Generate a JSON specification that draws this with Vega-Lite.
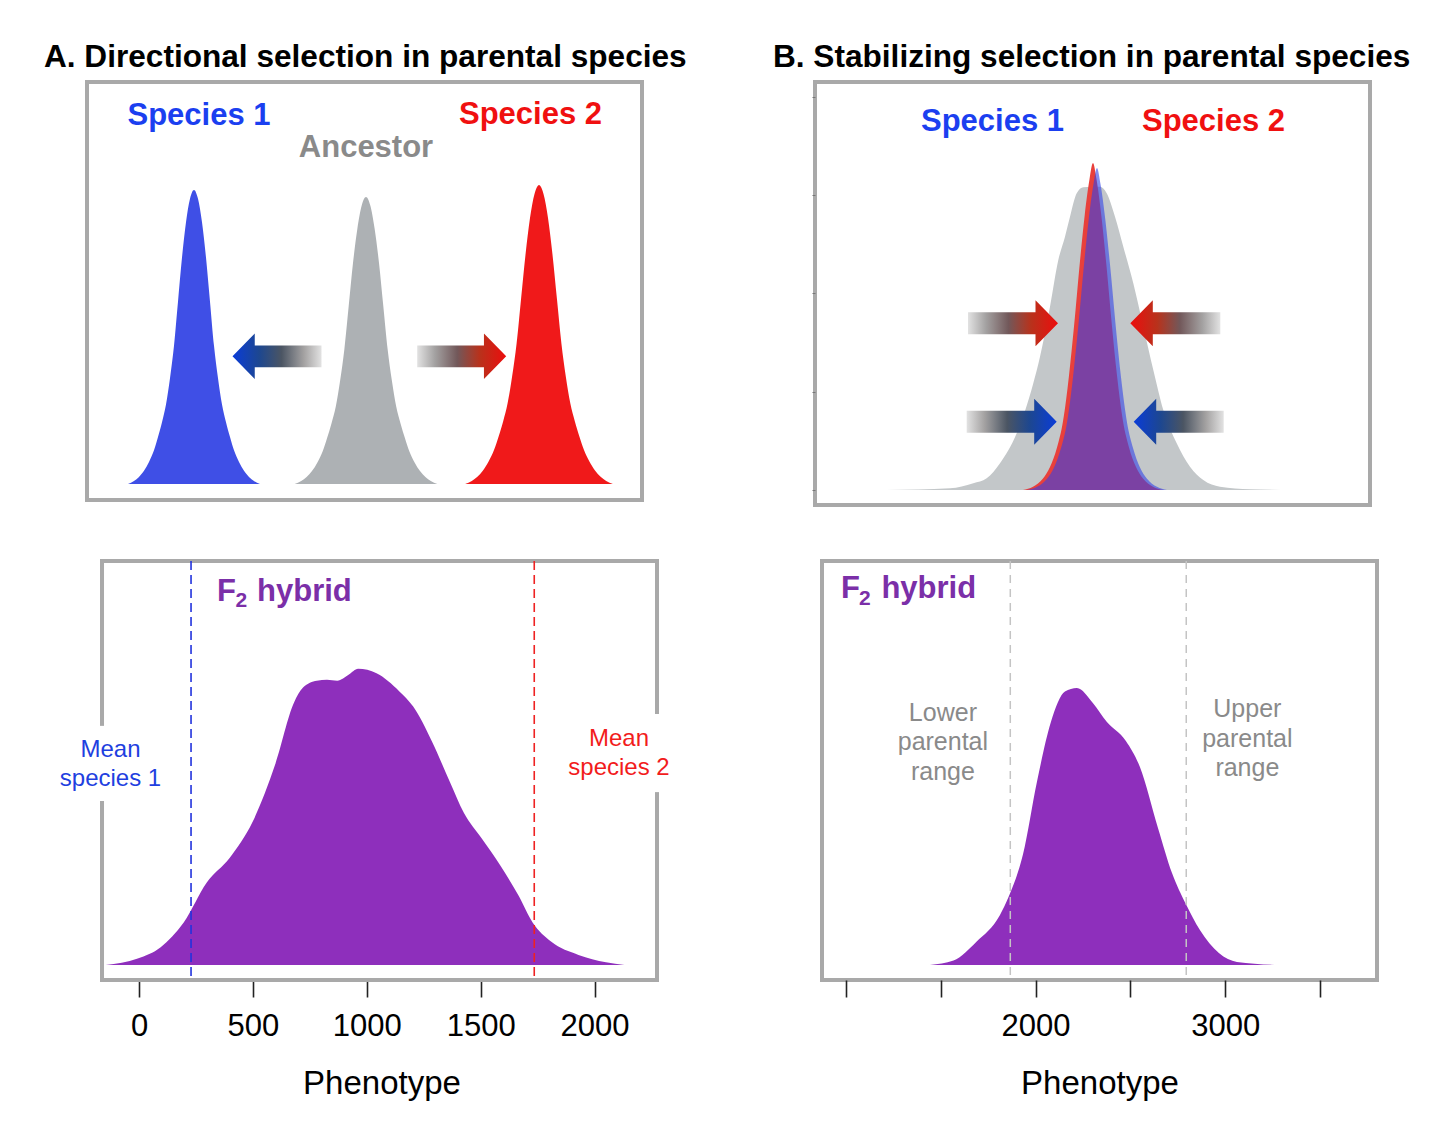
{
  "background": "white",
  "padding": {"left": 42, "top": 40, "right": 5, "bottom": 5},
  "config": {
    "font": "Liberation Sans",
    "view": {"stroke": "#a9a9a9", "strokeWidth": 4},
    "title": {"font": "Liberation Sans", "fontWeight": "bold", "color": "#000000"}
  },
  "datasets": {
    "a_curves": [
      {"sp":"Species 1","x":41,"y":0},{"sp":"Species 1","x":47,"y":2.9},{"sp":"Species 1","x":52,"y":7.1},{"sp":"Species 1","x":57,"y":13.2},{"sp":"Species 1","x":62,"y":22.1},{"sp":"Species 1","x":67,"y":33.8},{"sp":"Species 1","x":71,"y":47},{"sp":"Species 1","x":75,"y":61.7},{"sp":"Species 1","x":79,"y":79.4},{"sp":"Species 1","x":83,"y":105.8},{"sp":"Species 1","x":87,"y":138.2},{"sp":"Species 1","x":91,"y":182.3},{"sp":"Species 1","x":95,"y":226.4},{"sp":"Species 1","x":99,"y":261.7},{"sp":"Species 1","x":103,"y":285.2},{"sp":"Species 1","x":107,"y":294},{"sp":"Species 1","x":111,"y":285.2},{"sp":"Species 1","x":115,"y":261.7},{"sp":"Species 1","x":119,"y":226.4},{"sp":"Species 1","x":123,"y":182.3},{"sp":"Species 1","x":127,"y":138.2},{"sp":"Species 1","x":131,"y":105.8},{"sp":"Species 1","x":135,"y":79.4},{"sp":"Species 1","x":139,"y":61.7},{"sp":"Species 1","x":143,"y":47},{"sp":"Species 1","x":147,"y":33.8},{"sp":"Species 1","x":152,"y":22.1},{"sp":"Species 1","x":157,"y":13.2},{"sp":"Species 1","x":162,"y":7.1},{"sp":"Species 1","x":167,"y":2.9},{"sp":"Species 1","x":173,"y":0},
      {"sp":"Ancestor","x":207.7,"y":0},{"sp":"Ancestor","x":214.2,"y":2.9},{"sp":"Ancestor","x":219.6,"y":6.9},{"sp":"Ancestor","x":225,"y":12.9},{"sp":"Ancestor","x":230.4,"y":21.5},{"sp":"Ancestor","x":235.8,"y":33},{"sp":"Ancestor","x":240.1,"y":45.9},{"sp":"Ancestor","x":244.4,"y":60.3},{"sp":"Ancestor","x":248.8,"y":77.5},{"sp":"Ancestor","x":253.1,"y":103.3},{"sp":"Ancestor","x":257.4,"y":134.9},{"sp":"Ancestor","x":261.7,"y":177.9},{"sp":"Ancestor","x":266,"y":221},{"sp":"Ancestor","x":270.4,"y":255.4},{"sp":"Ancestor","x":274.7,"y":278.4},{"sp":"Ancestor","x":279,"y":287},{"sp":"Ancestor","x":283.3,"y":278.4},{"sp":"Ancestor","x":287.6,"y":255.4},{"sp":"Ancestor","x":292,"y":221},{"sp":"Ancestor","x":296.3,"y":177.9},{"sp":"Ancestor","x":300.6,"y":134.9},{"sp":"Ancestor","x":304.9,"y":103.3},{"sp":"Ancestor","x":309.2,"y":77.5},{"sp":"Ancestor","x":313.6,"y":60.3},{"sp":"Ancestor","x":317.9,"y":45.9},{"sp":"Ancestor","x":322.2,"y":33},{"sp":"Ancestor","x":327.6,"y":21.5},{"sp":"Ancestor","x":333,"y":12.9},{"sp":"Ancestor","x":338.4,"y":6.9},{"sp":"Ancestor","x":343.8,"y":2.9},{"sp":"Ancestor","x":350.3,"y":0},
      {"sp":"Species 2","x":378.1,"y":0},{"sp":"Species 2","x":384.8,"y":3},{"sp":"Species 2","x":390.4,"y":7.2},{"sp":"Species 2","x":396,"y":13.5},{"sp":"Species 2","x":401.6,"y":22.4},{"sp":"Species 2","x":407.2,"y":34.4},{"sp":"Species 2","x":411.7,"y":47.8},{"sp":"Species 2","x":416.2,"y":62.8},{"sp":"Species 2","x":420.6,"y":80.7},{"sp":"Species 2","x":425.1,"y":107.6},{"sp":"Species 2","x":429.6,"y":140.5},{"sp":"Species 2","x":434.1,"y":185.4},{"sp":"Species 2","x":438.6,"y":230.2},{"sp":"Species 2","x":443,"y":266.1},{"sp":"Species 2","x":447.5,"y":290},{"sp":"Species 2","x":452,"y":299},{"sp":"Species 2","x":456.5,"y":290},{"sp":"Species 2","x":461,"y":266.1},{"sp":"Species 2","x":465.4,"y":230.2},{"sp":"Species 2","x":469.9,"y":185.4},{"sp":"Species 2","x":474.4,"y":140.5},{"sp":"Species 2","x":478.8,"y":107.6},{"sp":"Species 2","x":483.3,"y":80.7},{"sp":"Species 2","x":487.8,"y":62.8},{"sp":"Species 2","x":492.3,"y":47.8},{"sp":"Species 2","x":496.8,"y":34.4},{"sp":"Species 2","x":502.4,"y":22.4},{"sp":"Species 2","x":508,"y":13.5},{"sp":"Species 2","x":513.6,"y":7.2},{"sp":"Species 2","x":519.2,"y":3},{"sp":"Species 2","x":525.9,"y":0}
    ],
    "a_text": [
      {"t":"Species 1","x":112,"y":359},
      {"t":"Species 2","x":443.5,"y":360},
      {"t":"Ancestor","x":279,"y":327.3}
    ],
    "a_arrows": [
      {"arrow":"blue-left","x":190,"y":127.7},
      {"arrow":"red-right","x":374.7,"y":127.7}
    ],
    "b_curves": [
      {"sp":"Ancestor","x":71.7,"y":0},{"sp":"Ancestor","x":135,"y":1.7},{"sp":"Ancestor","x":158.3,"y":6.7},{"sp":"Ancestor","x":171.7,"y":11.7},{"sp":"Ancestor","x":185,"y":26.7},{"sp":"Ancestor","x":201.7,"y":56.7},{"sp":"Ancestor","x":218.3,"y":106.7},{"sp":"Ancestor","x":225,"y":133.3},{"sp":"Ancestor","x":235,"y":183.3},{"sp":"Ancestor","x":243.3,"y":230},{"sp":"Ancestor","x":250,"y":253.3},{"sp":"Ancestor","x":255,"y":273.3},{"sp":"Ancestor","x":261.7,"y":296.7},{"sp":"Ancestor","x":268.3,"y":302.7},{"sp":"Ancestor","x":276.7,"y":303.3},{"sp":"Ancestor","x":285,"y":303.3},{"sp":"Ancestor","x":291.7,"y":296.7},{"sp":"Ancestor","x":300,"y":273.3},{"sp":"Ancestor","x":308.3,"y":243.3},{"sp":"Ancestor","x":318.3,"y":206.7},{"sp":"Ancestor","x":328.3,"y":163.3},{"sp":"Ancestor","x":338.3,"y":120},{"sp":"Ancestor","x":348.3,"y":80},{"sp":"Ancestor","x":361.7,"y":46.7},{"sp":"Ancestor","x":375,"y":23.3},{"sp":"Ancestor","x":388.3,"y":10},{"sp":"Ancestor","x":405,"y":3.3},{"sp":"Ancestor","x":435,"y":0.7},{"sp":"Ancestor","x":477,"y":0},
      {"sp":"Species 2","x":208,"y":0},{"sp":"Species 2","x":218,"y":3.3},{"sp":"Species 2","x":228,"y":11.4},{"sp":"Species 2","x":235,"y":22.9},{"sp":"Species 2","x":242,"y":42.5},{"sp":"Species 2","x":248,"y":68.7},{"sp":"Species 2","x":254,"y":114.5},{"sp":"Species 2","x":259,"y":163.5},{"sp":"Species 2","x":265,"y":228.9},{"sp":"Species 2","x":269.7,"y":274.7},{"sp":"Species 2","x":274.5,"y":310.7},{"sp":"Species 2","x":278,"y":327},{"sp":"Species 2","x":281.5,"y":310.7},{"sp":"Species 2","x":286.3,"y":274.7},{"sp":"Species 2","x":291,"y":228.9},{"sp":"Species 2","x":297,"y":163.5},{"sp":"Species 2","x":302,"y":114.5},{"sp":"Species 2","x":308,"y":68.7},{"sp":"Species 2","x":314,"y":42.5},{"sp":"Species 2","x":321,"y":22.9},{"sp":"Species 2","x":328,"y":11.4},{"sp":"Species 2","x":338,"y":3.3},{"sp":"Species 2","x":348,"y":0},
      {"sp":"Species 1","x":212,"y":0},{"sp":"Species 1","x":222,"y":3.2},{"sp":"Species 1","x":232,"y":11.3},{"sp":"Species 1","x":239,"y":22.5},{"sp":"Species 1","x":246,"y":41.9},{"sp":"Species 1","x":252,"y":67.6},{"sp":"Species 1","x":258,"y":112.7},{"sp":"Species 1","x":263,"y":161},{"sp":"Species 1","x":269,"y":225.4},{"sp":"Species 1","x":273.7,"y":270.5},{"sp":"Species 1","x":278.5,"y":305.9},{"sp":"Species 1","x":282,"y":322},{"sp":"Species 1","x":285.5,"y":305.9},{"sp":"Species 1","x":290.3,"y":270.5},{"sp":"Species 1","x":295,"y":225.4},{"sp":"Species 1","x":301,"y":161},{"sp":"Species 1","x":306,"y":112.7},{"sp":"Species 1","x":312,"y":67.6},{"sp":"Species 1","x":318,"y":41.9},{"sp":"Species 1","x":325,"y":22.5},{"sp":"Species 1","x":332,"y":11.3},{"sp":"Species 1","x":342,"y":3.2},{"sp":"Species 1","x":352,"y":0}
    ],
    "b_text": [
      {"t":"Species 1","x":177.5,"y":359},
      {"t":"Species 2","x":398.5,"y":359}
    ],
    "b_arrows": [
      {"arrow":"red-right","x":198,"y":166.7},
      {"arrow":"red-left","x":360.3,"y":166.7},
      {"arrow":"blue-right","x":196.7,"y":68.3},
      {"arrow":"blue-left","x":363.7,"y":68.3}
    ],
    "c_density": [
      {"x":-146.7,"y":0},{"x":-6,"y":0.022},{"x":94.8,"y":0.06},{"x":195.8,"y":0.143},{"x":296.4,"y":0.277},{"x":397.4,"y":0.36},{"x":497.9,"y":0.481},{"x":598.9,"y":0.678},{"x":679.3,"y":0.882},{"x":719.7,"y":0.934},{"x":780.2,"y":0.957},{"x":825,"y":0.96},{"x":870,"y":0.957},{"x":921.2,"y":0.978},{"x":961.6,"y":0.997},{"x":1042.4,"y":0.982},{"x":1142.9,"y":0.921},{"x":1203.5,"y":0.87},{"x":1284.3,"y":0.755},{"x":1365.1,"y":0.615},{"x":1425.2,"y":0.513},{"x":1506.1,"y":0.424},{"x":1586.8,"y":0.334},{"x":1667.2,"y":0.232},{"x":1727.8,"y":0.143},{"x":1808.6,"y":0.079},{"x":1929.3,"y":0.034},{"x":2050,"y":0.009},{"x":2130.9,"y":0}
    ],
    "c_box": [{"x1":-162.9,"x2":2274,"y1":-0.0505,"y2":1.36}],
    "c_gaps": [
      {"x1":-180.5,"x2":-145.3,"y1":0.552,"y2":0.805},
      {"x1":2256.5,"x2":2291.6,"y1":0.582,"y2":0.845}
    ],
    "c_means": [
      {"s":"Mean species 1","x":228},
      {"s":"Mean species 2","x":1735}
    ],
    "c_labels": [
      {"s":"Mean species 1","t":"Mean\nspecies 1","x":-125.6,"y":0.7},
      {"s":"Mean species 2","t":"Mean\nspecies 2","x":2107,"y":0.736}
    ],
    "c_f2": [
      {"part":"main","t":"F","x":342,"y":1.227},
      {"part":"sub","t":"2","x":423.3,"y":1.204},
      {"part":"main","t":"hybrid","x":517.7,"y":1.227}
    ],
    "d_density": [
      {"x":1444,"y":0},{"x":1568,"y":0.016},{"x":1690,"y":0.085},{"x":1812,"y":0.18},{"x":1860,"y":0.249},{"x":1934,"y":0.4},{"x":2007,"y":0.66},{"x":2081,"y":0.877},{"x":2155,"y":0.987},{"x":2218,"y":1},{"x":2302,"y":0.946},{"x":2376,"y":0.877},{"x":2476,"y":0.809},{"x":2550,"y":0.715},{"x":2645,"y":0.495},{"x":2719,"y":0.332},{"x":2792,"y":0.22},{"x":2866,"y":0.126},{"x":2966,"y":0.043},{"x":3061,"y":0.011},{"x":3282,"y":0}
    ],
    "d_ranges": [{"x":1867},{"x":2794}],
    "d_labels": [
      {"t":"Lower\nparental\nrange","x":1512,"y":0.881},
      {"t":"Upper\nparental\nrange","x":3116,"y":0.894}
    ],
    "d_f2": [
      {"part":"main","t":"F","x":975,"y":1.326},
      {"part":"sub","t":"2","x":1069.4,"y":1.3},
      {"part":"main","t":"hybrid","x":1188,"y":1.326}
    ]
  },
  "spacing": 51,
  "vconcat": [
    {
      "spacing": 82,
      "hconcat": [
        {
          "width": 555,
          "height": 418,
          "title": {"text": "A. Directional selection in parental species", "anchor": "start", "frame": "group", "dx": -43, "offset": 8, "fontSize": 31.6},
          "resolve": {"scale": {"color": "independent"}},
          "layer": [
            {
              "data": {"name": "a_curves"},
              "mark": {"type": "area", "interpolate": "monotone", "opacity": 1},
              "encoding": {
                "x": {"field": "x", "type": "quantitative", "scale": {"domain": [0, 555], "nice": false, "zero": false}, "axis": null},
                "y": {"field": "y", "type": "quantitative", "stack": null, "scale": {"domain": [-16, 402], "nice": false, "zero": false}, "axis": null},
                "color": {"field": "sp", "type": "nominal", "scale": {"domain": ["Species 1", "Ancestor", "Species 2"], "range": ["#3f4fe6", "#adb1b4", "#f0191a"]}, "legend": null}
              }
            },
            {
              "data": {"name": "a_arrows"},
              "transform": [{"filter": "datum.arrow == 'blue-left'"}],
              "mark": {"type": "point", "shape": "M -1 0 L -0.5 -0.51 L -0.5 -0.245 L 1 -0.245 L 1 0.245 L -0.5 0.245 L -0.5 0.51 Z", "size": 7921, "filled": true, "opacity": 1, "strokeWidth": 0,
                "fill": {"gradient": "linear", "x1": 0, "y1": 0, "x2": 1, "y2": 0, "stops": [{"offset": 0, "color": "#0a3cd8"}, {"offset": 0.3, "color": "#1d4790"}, {"offset": 0.55, "color": "#4b5563"}, {"offset": 0.8, "color": "#a3a1a1"}, {"offset": 1, "color": "#e2e2e2"}]}},
              "encoding": {
                "x": {"field": "x", "type": "quantitative", "axis": null},
                "y": {"field": "y", "type": "quantitative", "axis": null}
              }
            },
            {
              "data": {"name": "a_arrows"},
              "transform": [{"filter": "datum.arrow == 'red-right'"}],
              "mark": {"type": "point", "shape": "M 1 0 L 0.5 -0.51 L 0.5 -0.245 L -1 -0.245 L -1 0.245 L 0.5 0.245 L 0.5 0.51 Z", "size": 7921, "filled": true, "opacity": 1, "strokeWidth": 0,
                "fill": {"gradient": "linear", "x1": 0, "y1": 0, "x2": 1, "y2": 0, "stops": [{"offset": 0, "color": "#e2e2e2"}, {"offset": 0.2, "color": "#a3a1a1"}, {"offset": 0.45, "color": "#72585a"}, {"offset": 0.7, "color": "#b8321c"}, {"offset": 1, "color": "#ec0d0d"}]}},
              "encoding": {
                "x": {"field": "x", "type": "quantitative", "axis": null},
                "y": {"field": "y", "type": "quantitative", "axis": null}
              }
            },
            {
              "data": {"name": "a_text"},
              "mark": {"type": "text", "fontSize": 31, "fontWeight": "bold", "align": "center", "baseline": "alphabetic"},
              "encoding": {
                "x": {"field": "x", "type": "quantitative", "axis": null},
                "y": {"field": "y", "type": "quantitative", "axis": null},
                "text": {"field": "t"},
                "color": {"field": "t", "type": "nominal", "scale": {"domain": ["Species 1", "Ancestor", "Species 2"], "range": ["#1b3ff0", "#8a8a8a", "#f01010"]}, "legend": null}
              }
            }
          ]
        },
        {
          "width": 555,
          "height": 423,
          "title": {"text": "B. Stabilizing selection in parental species", "anchor": "start", "frame": "group", "dx": -42, "offset": 8, "fontSize": 31.6},
          "resolve": {"scale": {"color": "independent"}},
          "layer": [
            {
              "data": {"name": "b_curves"},
              "transform": [{"filter": "datum.sp == 'Ancestor'"}],
              "mark": {"type": "area", "interpolate": "monotone", "opacity": 1, "color": "#c3c7c9"},
              "encoding": {
                "x": {"field": "x", "type": "quantitative", "scale": {"domain": [0, 555], "nice": false, "zero": false}, "axis": null},
                "y": {"field": "y", "type": "quantitative", "stack": null, "scale": {"domain": [-15, 408], "nice": false, "zero": false},
                  "axis": {"values": [0, 98, 197, 295, 393], "labels": false, "domain": false, "grid": false, "ticks": true, "tickSize": 3, "tickColor": "#777777", "tickWidth": 1, "title": null}}
              }
            },
            {
              "data": {"name": "b_curves"},
              "transform": [{"filter": "datum.sp == 'Species 2'"}],
              "mark": {"type": "area", "interpolate": "monotone", "opacity": 1, "color": "#e8403c"},
              "encoding": {
                "x": {"field": "x", "type": "quantitative", "axis": null},
                "y": {"field": "y", "type": "quantitative", "stack": null}
              }
            },
            {
              "data": {"name": "b_curves"},
              "transform": [{"filter": "datum.sp == 'Species 1'"}],
              "mark": {"type": "area", "interpolate": "monotone", "opacity": 0.6, "color": "#3243e8"},
              "encoding": {
                "x": {"field": "x", "type": "quantitative", "axis": null},
                "y": {"field": "y", "type": "quantitative", "stack": null}
              }
            },
            {
              "data": {"name": "b_arrows"},
              "transform": [{"filter": "datum.arrow == 'red-right'"}],
              "mark": {"type": "point", "shape": "M 1 0 L 0.5 -0.51 L 0.5 -0.245 L -1 -0.245 L -1 0.245 L 0.5 0.245 L 0.5 0.51 Z", "size": 8100, "filled": true, "opacity": 1, "strokeWidth": 0,
                "fill": {"gradient": "linear", "x1": 0, "y1": 0, "x2": 1, "y2": 0, "stops": [{"offset": 0, "color": "#e2e2e2"}, {"offset": 0.2, "color": "#a3a1a1"}, {"offset": 0.45, "color": "#72585a"}, {"offset": 0.7, "color": "#b8321c"}, {"offset": 1, "color": "#ec0d0d"}]}},
              "encoding": {
                "x": {"field": "x", "type": "quantitative", "axis": null},
                "y": {"field": "y", "type": "quantitative"}
              }
            },
            {
              "data": {"name": "b_arrows"},
              "transform": [{"filter": "datum.arrow == 'red-left'"}],
              "mark": {"type": "point", "shape": "M -1 0 L -0.5 -0.51 L -0.5 -0.245 L 1 -0.245 L 1 0.245 L -0.5 0.245 L -0.5 0.51 Z", "size": 8100, "filled": true, "opacity": 1, "strokeWidth": 0,
                "fill": {"gradient": "linear", "x1": 0, "y1": 0, "x2": 1, "y2": 0, "stops": [{"offset": 0, "color": "#ec0d0d"}, {"offset": 0.3, "color": "#b8321c"}, {"offset": 0.55, "color": "#72585a"}, {"offset": 0.8, "color": "#a3a1a1"}, {"offset": 1, "color": "#e2e2e2"}]}},
              "encoding": {
                "x": {"field": "x", "type": "quantitative", "axis": null},
                "y": {"field": "y", "type": "quantitative"}
              }
            },
            {
              "data": {"name": "b_arrows"},
              "transform": [{"filter": "datum.arrow == 'blue-right'"}],
              "mark": {"type": "point", "shape": "M 1 0 L 0.5 -0.51 L 0.5 -0.245 L -1 -0.245 L -1 0.245 L 0.5 0.245 L 0.5 0.51 Z", "size": 8100, "filled": true, "opacity": 1, "strokeWidth": 0,
                "fill": {"gradient": "linear", "x1": 0, "y1": 0, "x2": 1, "y2": 0, "stops": [{"offset": 0, "color": "#e2e2e2"}, {"offset": 0.2, "color": "#a3a1a1"}, {"offset": 0.45, "color": "#4b5563"}, {"offset": 0.7, "color": "#1d4790"}, {"offset": 1, "color": "#0a3cd8"}]}},
              "encoding": {
                "x": {"field": "x", "type": "quantitative", "axis": null},
                "y": {"field": "y", "type": "quantitative"}
              }
            },
            {
              "data": {"name": "b_arrows"},
              "transform": [{"filter": "datum.arrow == 'blue-left'"}],
              "mark": {"type": "point", "shape": "M -1 0 L -0.5 -0.51 L -0.5 -0.245 L 1 -0.245 L 1 0.245 L -0.5 0.245 L -0.5 0.51 Z", "size": 8100, "filled": true, "opacity": 1, "strokeWidth": 0,
                "fill": {"gradient": "linear", "x1": 0, "y1": 0, "x2": 1, "y2": 0, "stops": [{"offset": 0, "color": "#0a3cd8"}, {"offset": 0.3, "color": "#1d4790"}, {"offset": 0.55, "color": "#4b5563"}, {"offset": 0.8, "color": "#a3a1a1"}, {"offset": 1, "color": "#e2e2e2"}]}},
              "encoding": {
                "x": {"field": "x", "type": "quantitative", "axis": null},
                "y": {"field": "y", "type": "quantitative"}
              }
            },
            {
              "data": {"name": "b_text"},
              "mark": {"type": "text", "fontSize": 31, "fontWeight": "bold", "align": "center", "baseline": "alphabetic"},
              "encoding": {
                "x": {"field": "x", "type": "quantitative", "axis": null},
                "y": {"field": "y", "type": "quantitative"},
                "text": {"field": "t"},
                "color": {"field": "t", "type": "nominal", "scale": {"domain": ["Species 1", "Species 2"], "range": ["#1b3ff0", "#f01010"]}, "legend": null}
              }
            }
          ]
        }
      ]
    },
    {
      "spacing": 144,
      "hconcat": [
        {
          "width": 589,
          "height": 419,
          "view": {"stroke": null},
          "resolve": {"scale": {"color": "independent"}},
          "layer": [
            {
              "data": {"name": "c_density"},
              "mark": {"type": "area", "interpolate": "monotone", "opacity": 1, "color": "#8e2fbc"},
              "encoding": {
                "x": {"field": "x", "type": "quantitative", "scale": {"domain": [-228.8, 2357.4], "nice": false, "zero": false},
                  "axis": {"values": [0, 500, 1000, 1500, 2000], "format": "d", "domain": false, "grid": false, "tickSize": 17, "tickWidth": 1.6, "tickColor": "#222222", "labelFontSize": 31, "labelColor": "#000000", "labelPadding": 14, "labelFlush": false, "labelOverlap": false, "title": "Phenotype", "titleFontSize": 33, "titleFontWeight": "normal", "titleColor": "#000000", "titlePadding": 26}},
                "y": {"field": "y", "type": "quantitative", "stack": null, "scale": {"domain": [-0.0505, 1.36], "nice": false, "zero": false}, "axis": null}
              }
            },
            {
              "data": {"name": "c_box"},
              "mark": {"type": "rect", "fillOpacity": 0, "stroke": "#a9a9a9", "strokeWidth": 4},
              "encoding": {
                "x": {"field": "x1", "type": "quantitative", "title": "Phenotype"},
                "x2": {"field": "x2"},
                "y": {"field": "y1", "type": "quantitative", "axis": null},
                "y2": {"field": "y2"}
              }
            },
            {
              "data": {"name": "c_means"},
              "mark": {"type": "rule", "strokeDash": [9, 5], "strokeWidth": 1.6},
              "encoding": {
                "x": {"field": "x", "type": "quantitative", "title": "Phenotype"},
                "color": {"field": "s", "type": "nominal", "scale": {"domain": ["Mean species 1", "Mean species 2"], "range": ["#2233dd", "#ee2222"]}, "legend": null}
              }
            },
            {
              "data": {"name": "c_gaps"},
              "mark": {"type": "rect", "color": "white", "opacity": 1},
              "encoding": {
                "x": {"field": "x1", "type": "quantitative", "title": "Phenotype"},
                "x2": {"field": "x2"},
                "y": {"field": "y1", "type": "quantitative", "axis": null},
                "y2": {"field": "y2"}
              }
            },
            {
              "data": {"name": "c_labels"},
              "mark": {"type": "text", "fontSize": 24, "align": "center", "baseline": "alphabetic", "lineBreak": "\n", "lineHeight": 29},
              "encoding": {
                "x": {"field": "x", "type": "quantitative", "title": "Phenotype"},
                "y": {"field": "y", "type": "quantitative", "axis": null},
                "text": {"field": "t"},
                "color": {"field": "s", "type": "nominal", "scale": {"domain": ["Mean species 1", "Mean species 2"], "range": ["#1f3fe0", "#f21c1c"]}, "legend": null}
              }
            },
            {
              "data": {"name": "c_f2"},
              "transform": [{"filter": "datum.part == 'main'"}],
              "mark": {"type": "text", "fontSize": 31, "fontWeight": "bold", "align": "left", "baseline": "alphabetic", "color": "#7b2fa8"},
              "encoding": {
                "x": {"field": "x", "type": "quantitative", "title": "Phenotype"},
                "y": {"field": "y", "type": "quantitative", "axis": null},
                "text": {"field": "t"}
              }
            },
            {
              "data": {"name": "c_f2"},
              "transform": [{"filter": "datum.part == 'sub'"}],
              "mark": {"type": "text", "fontSize": 21, "fontWeight": "bold", "align": "left", "baseline": "alphabetic", "color": "#7b2fa8"},
              "encoding": {
                "x": {"field": "x", "type": "quantitative", "title": "Phenotype"},
                "y": {"field": "y", "type": "quantitative", "axis": null},
                "text": {"field": "t"}
              }
            }
          ]
        },
        {
          "width": 555,
          "height": 419,
          "layer": [
            {
              "data": {"name": "d_density"},
              "mark": {"type": "area", "interpolate": "monotone", "opacity": 1, "color": "#8e2fbc"},
              "encoding": {
                "x": {"field": "x", "type": "quantitative", "scale": {"domain": [875, 3799], "nice": false, "zero": false},
                  "axis": {"values": [1000, 1500, 2000, 2500, 3000, 3500], "format": "d", "labelExpr": "datum.value == 2000 || datum.value == 3000 ? datum.label : ''", "domain": false, "grid": false, "tickSize": 17, "tickWidth": 1.6, "tickColor": "#222222", "labelFontSize": 31, "labelColor": "#000000", "labelPadding": 14, "labelFlush": false, "labelOverlap": false, "title": "Phenotype", "titleFontSize": 33, "titleFontWeight": "normal", "titleColor": "#000000", "titlePadding": 26}},
                "y": {"field": "y", "type": "quantitative", "stack": null, "scale": {"domain": [-0.0542, 1.4585], "nice": false, "zero": false}, "axis": null}
              }
            },
            {
              "data": {"name": "d_ranges"},
              "mark": {"type": "rule", "strokeDash": [8, 6], "strokeWidth": 1.5, "color": "#c4c4c4"},
              "encoding": {
                "x": {"field": "x", "type": "quantitative", "title": "Phenotype"}
              }
            },
            {
              "data": {"name": "d_labels"},
              "mark": {"type": "text", "fontSize": 25, "align": "center", "baseline": "alphabetic", "lineBreak": "\n", "lineHeight": 29.5, "color": "#8a8a8a"},
              "encoding": {
                "x": {"field": "x", "type": "quantitative", "title": "Phenotype"},
                "y": {"field": "y", "type": "quantitative", "axis": null},
                "text": {"field": "t"}
              }
            },
            {
              "data": {"name": "d_f2"},
              "transform": [{"filter": "datum.part == 'main'"}],
              "mark": {"type": "text", "fontSize": 31, "fontWeight": "bold", "align": "left", "baseline": "alphabetic", "color": "#7b2fa8"},
              "encoding": {
                "x": {"field": "x", "type": "quantitative", "title": "Phenotype"},
                "y": {"field": "y", "type": "quantitative", "axis": null},
                "text": {"field": "t"}
              }
            },
            {
              "data": {"name": "d_f2"},
              "transform": [{"filter": "datum.part == 'sub'"}],
              "mark": {"type": "text", "fontSize": 21, "fontWeight": "bold", "align": "left", "baseline": "alphabetic", "color": "#7b2fa8"},
              "encoding": {
                "x": {"field": "x", "type": "quantitative", "title": "Phenotype"},
                "y": {"field": "y", "type": "quantitative", "axis": null},
                "text": {"field": "t"}
              }
            }
          ]
        }
      ]
    }
  ]
}
